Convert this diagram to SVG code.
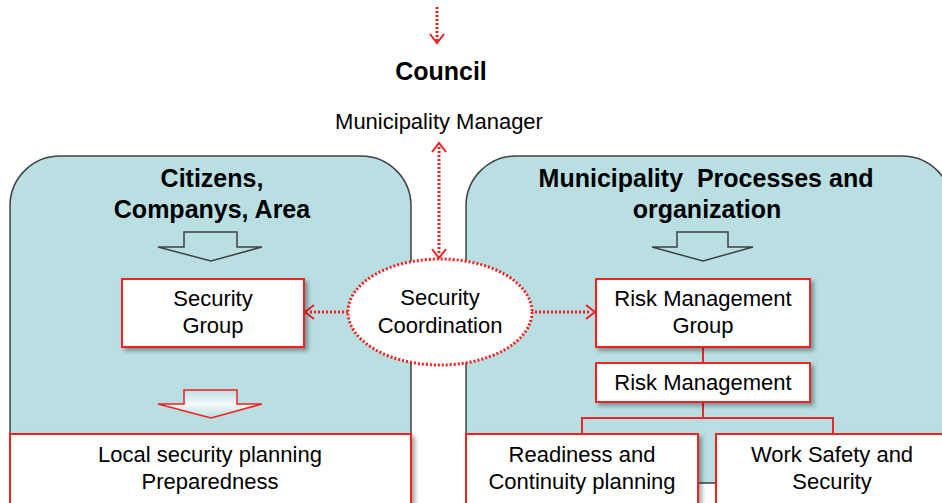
<svg xmlns="http://www.w3.org/2000/svg" width="942" height="503" viewBox="0 0 942 503">
<defs>
<style>
.panel{fill:#B9DFE2;stroke:#404040;stroke-width:1.5}
.box{fill:#fff;stroke:#F02020;stroke-width:2;filter:url(#sh)}
.t{font-family:"Liberation Sans",Arial,sans-serif;font-size:22px;fill:#000;text-anchor:middle}
.b{font-weight:bold;font-size:25px}
.dot{fill:none;stroke:#F02020;stroke-width:3;stroke-dasharray:2 2}
.head{fill:none;stroke:#F02020;stroke-width:2}
.ln{fill:none;stroke:#E8282C;stroke-width:2}
.barrow{fill:none;stroke:#404040;stroke-width:1.5}
.rarrow{fill:url(#rg);stroke:#F02020;stroke-width:1.5}
</style>
<linearGradient id="rg" x1="0" y1="0" x2="0" y2="1">
<stop offset="0" stop-color="#B9DFE2"/>
<stop offset="0.5" stop-color="#F4F8F8"/>
<stop offset="1" stop-color="#B9DFE2"/>
</linearGradient>
<filter id="sh" x="-10%" y="-10%" width="130%" height="140%">
<feDropShadow dx="3" dy="3" stdDeviation="2" flood-color="#000" flood-opacity="0.35"/>
</filter>
</defs>
<rect width="942" height="503" fill="#fff"/>
<g id="panel-left">
<path class="panel" d="M10,483 V206 A50,50 0 0 1 60,156 H361 A50,50 0 0 1 411,206 V483 Z"/>
<text class="t b" x="212" y="187">Citizens,</text>
<text class="t b" x="212" y="218">Companys, Area</text>
<path class="barrow" d="M184,232 H237 V247 H262 L211,261 L158,247 H184 Z"/>
<path class="rarrow" d="M184,390 H237 V404 H262 L211,418 L158,404 H184 Z"/>
</g>
<g id="panel-right">
<path class="panel" d="M466,483 V206 A50,50 0 0 1 516,156 H902 A50,50 0 0 1 952,206 V483 Z"/>
<text class="t b" x="706" y="187">Municipality&#160; Processes and</text>
<text class="t b" x="707" y="218">organization</text>
<path class="barrow" d="M677,232 H728 V247 H753 L703,261 L652,247 H677 Z"/>
</g>
<g id="council">
<text class="t b" x="441" y="80">Council</text>
</g>
<g id="manager">
<text class="t" x="439" y="129">Municipality Manager</text>
</g>
<g id="connectors">
<line class="dot" x1="437" y1="7" x2="437" y2="41"/>
<path class="head" d="M430,34 L437,43 L444,34"/>
<line class="dot" x1="439" y1="147" x2="439" y2="254"/>
<path class="head" d="M432,152 L439,143 L446,152"/>
<path class="head" d="M432,249 L439,258 L446,249"/>
<line class="dot" x1="348" y1="312" x2="309" y2="312"/>
<path class="head" d="M314,305 L305,312 L314,319"/>
<line class="dot" x1="531" y1="312" x2="591" y2="312"/>
<path class="head" d="M586,305 L595,312 L586,319"/>
<line class="ln" x1="703" y1="347" x2="703" y2="363"/>
<polyline class="ln" points="582,434 582,418 833,418 833,434"/>
<line class="ln" x1="703" y1="402" x2="703" y2="418"/>
</g>
<g id="security-coordination">
<ellipse cx="440" cy="312" rx="92" ry="53" fill="#fff" stroke="#F02020" stroke-width="3" stroke-dasharray="2 2"/>
<text class="t" x="440" y="305">Security</text>
<text class="t" x="440" y="333">Coordination</text>
</g>
<g id="security-group">
<rect class="box" x="122" y="279" width="182" height="68"/>
<text class="t" x="213" y="306">Security</text>
<text class="t" x="213" y="333">Group</text>
</g>
<g id="local-security">
<rect class="box" x="10" y="434" width="401" height="70"/>
<text class="t" x="210" y="462">Local security planning</text>
<text class="t" x="210" y="489">Preparedness</text>
</g>
<g id="risk-group">
<rect class="box" x="596" y="279" width="214" height="68"/>
<text class="t" x="703" y="306">Risk Management</text>
<text class="t" x="703" y="333">Group</text>
</g>
<g id="risk-management">
<rect class="box" x="596" y="363" width="214" height="39"/>
<text class="t" x="703" y="390">Risk Management</text>
</g>
<g id="readiness">
<rect class="box" x="466" y="434" width="232" height="70"/>
<text class="t" x="582" y="462">Readiness and</text>
<text class="t" x="582" y="489">Continuity planning</text>
</g>
<g id="work-safety">
<rect class="box" x="716" y="434" width="240" height="70"/>
<text class="t" x="832" y="462">Work Safety and</text>
<text class="t" x="832" y="489">Security</text>
</g>
</svg>
